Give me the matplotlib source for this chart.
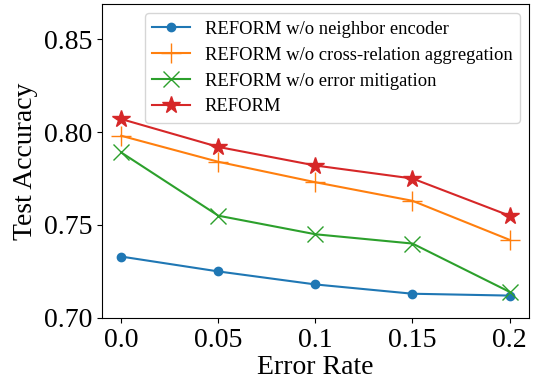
import matplotlib
matplotlib.use("Agg")
import matplotlib.pyplot as plt

plt.rcParams['font.family'] = ['Liberation Serif', 'DejaVu Serif']
plt.rcParams['mathtext.fontset'] = 'stix'

# Data
error_rates = ['0.0', '0.05', '0.1', '0.15', '0.2']
no_neighbor = [0.733, 0.725, 0.718, 0.713, 0.712]
no_cross = [0.798, 0.784, 0.773, 0.763, 0.742]
no_mitigation = [0.789, 0.755, 0.745, 0.740, 0.714]
reform = [0.807, 0.792, 0.782, 0.775, 0.755]

fig, ax = plt.subplots(figsize=(5.33, 3.83), dpi=100)
x = list(range(len(error_rates)))

ax.plot(x, no_neighbor, marker='o', markersize=6, color='#1f77b4', label='REFORM w/o neighbor encoder')
ax.plot(x, no_cross, marker='+', markersize=14, color='#ff7f0e', label='REFORM w/o cross-relation aggregation')
ax.plot(x, no_mitigation, marker='x', markersize=12, color='#2ca02c', label='REFORM w/o error mitigation')
ax.plot(x, reform, marker='*', markersize=13, color='#d62728', label='REFORM')

ax.set_xticks(x)
ax.set_xticklabels(error_rates)
ax.set_ylim(0.70, 0.869)
ax.set_yticks([0.70, 0.75, 0.80, 0.85])
ax.set_yticklabels(['0.70', '0.75', '0.80', '0.85'])
ax.tick_params(labelsize=20)
ax.set_xlabel('Error Rate', fontsize=20, labelpad=2)
ax.set_ylabel('Test Accuracy', fontsize=20, labelpad=4)

ax.legend(loc='upper right', fontsize=13.4, handlelength=2.0, handletextpad=0.8,
          borderpad=0.4, labelspacing=0.48, borderaxespad=0.5)

fig.subplots_adjust(left=0.191, right=0.9925, top=0.99, bottom=0.17)
fig.savefig('out.png', dpi=100)
